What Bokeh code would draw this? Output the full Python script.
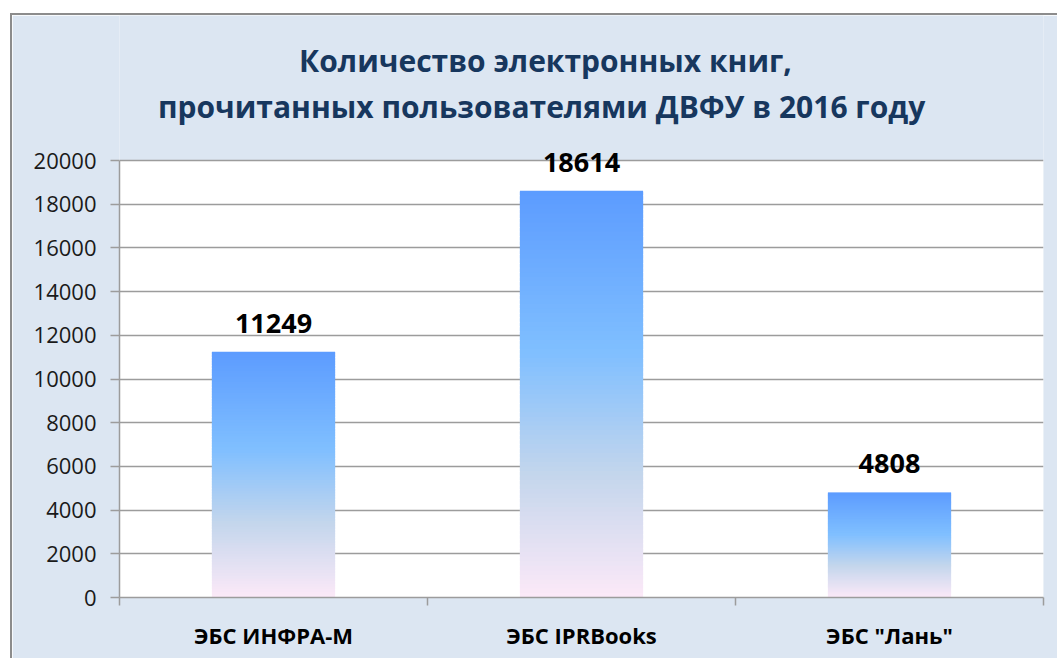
from bokeh.plotting import figure
from bokeh.models import Range1d, FixedTicker, Label, LabelSet, ColumnDataSource
from bokeh.embed import file_html
from bokeh.resources import INLINE
from bokeh.core.properties import value

# ---- data ----
categories = ["ЭБС ИНФРА-М", "ЭБС IPRBooks", 'ЭБС "Лань"']
books_read = [11249, 18614, 4808]
y_ticks = [0, 2000, 4000, 6000, 8000, 10000, 12000, 14000, 16000, 18000, 20000]
title_lines = ["Количество электронных книг,",
               "прочитанных пользователями  ДВФУ в 2016 году"]

FONT = "Open Sans"
BG = "#DCE6F2"
GRID = "#9C9C9C"

# gradient stops (fraction of bar height from bottom -> rgb)
stops = [(0.00, (252, 233, 248)),
         (0.30, (196, 214, 236)),
         (0.60, (128, 191, 255)),
         (1.00, (92, 156, 255))]


def grad(t):
    for (t0, c0), (t1, c1) in zip(stops[:-1], stops[1:]):
        if t0 <= t <= t1:
            f = (t - t0) / (t1 - t0)
            r, g, b = (round(a + (b_ - a) * f) for a, b_ in zip(c0, c1))
            return "#%02x%02x%02x" % (r, g, b)
    return "#%02x%02x%02x" % stops[-1][1]


# layout (pixels)
W, H = 1047, 645
LEFT, RIGHT, BOTTOM = 107, 16, 63
PLOT_H = 437                       # height of the white plot area
frame_h = H - BOTTOM
frame_w = W - LEFT - RIGHT

n_cat = len(categories)
x_pos = [i + 0.5 for i in range(n_cat)]
y_top = y_ticks[-1] * frame_h / PLOT_H
per_px = y_ticks[-1] / PLOT_H

p = figure(width=W, height=H,
           x_range=Range1d(0, n_cat), y_range=Range1d(y_ticks[0], y_top),
           output_backend="svg", toolbar_location=None, tools="",
           min_border_left=LEFT, min_border_right=RIGHT,
           min_border_top=0, min_border_bottom=BOTTOM)
p.styles = {"margin-left": "10px", "margin-top": "13px",
            "border-left": "2px solid #8C8C8C", "border-top": "2px solid #8C8C8C"}
p.border_fill_color = BG
p.background_fill_color = BG
p.outline_line_color = None

# white plot area
p.quad(left=[0], right=[n_cat], bottom=[y_ticks[0]], top=[y_ticks[-1]],
       fill_color="white", line_color=None, level="underlay")

# ---- gradient bars built from slices ----
N = 90
xs, bots, tops, cols = [], [], [], []
for xp, v in zip(x_pos, books_read):
    for k in range(N):
        b = v * k / N
        t = min(v, v * (k + 1.8) / N)
        xs.append(xp)
        bots.append(b)
        tops.append(t)
        cols.append(grad((k + 0.5) / N))
src = ColumnDataSource(dict(x=xs, bottom=bots, top=tops, color=cols))
p.vbar(x="x", width=0.4, bottom="bottom", top="top", source=src,
       fill_color="color", line_color=None)

# ---- value labels ----
lab_src = ColumnDataSource(dict(x=x_pos, y=books_read, txt=[str(v) for v in books_read]))
p.add_layout(LabelSet(x="x", y="y", text="txt", source=lab_src,
                      y_offset=19, text_align="center", text_baseline="alphabetic",
                      text_font=value(FONT), text_font_style="bold",
                      text_font_size="27px", text_color="black"))

# ---- title ----
title_x = (533 - LEFT) / (frame_w / n_cat)
for line, off in zip(title_lines, [100, 54]):
    p.add_layout(Label(x=title_x, y=y_ticks[-1] + off * per_px,
                       text=line, text_align="center", text_baseline="middle",
                       text_font=FONT, text_font_style="bold",
                       text_font_size="30px", text_color="#17375E"))

# ---- axes ----
yax = p.yaxis[0]
yax.ticker = FixedTicker(ticks=y_ticks)
yax.bounds = (y_ticks[0], y_ticks[-1])
yax.axis_line_color = GRID
yax.axis_line_width = 1.5
yax.major_tick_line_color = GRID
yax.major_tick_line_width = 1.5
yax.major_tick_out = 9
yax.major_tick_in = 0
yax.minor_tick_line_color = None
yax.major_label_standoff = 14
yax.major_label_text_font = FONT
yax.major_label_text_font_size = "22px"
yax.major_label_text_color = "#1A1A1A"

xax = p.xaxis[0]
xax.ticker = FixedTicker(ticks=x_pos, minor_ticks=list(range(n_cat + 1)))
xax.major_label_overrides = {xp: c for xp, c in zip(x_pos, categories)}
xax.axis_line_color = GRID
xax.axis_line_width = 1.5
xax.major_tick_out = 0
xax.major_tick_in = 0
xax.minor_tick_line_color = GRID
xax.minor_tick_line_width = 1.5
xax.minor_tick_out = 8
xax.minor_tick_in = 0
xax.major_label_standoff = 14
xax.major_label_text_font = FONT
xax.major_label_text_font_style = "bold"
xax.major_label_text_font_size = "22px"
xax.major_label_text_color = "black"

p.xgrid.grid_line_color = None
p.ygrid.ticker = FixedTicker(ticks=y_ticks)
p.ygrid.grid_line_color = GRID
p.ygrid.grid_line_width = 1.5

open("out.html", "w").write(file_html(p, INLINE))
